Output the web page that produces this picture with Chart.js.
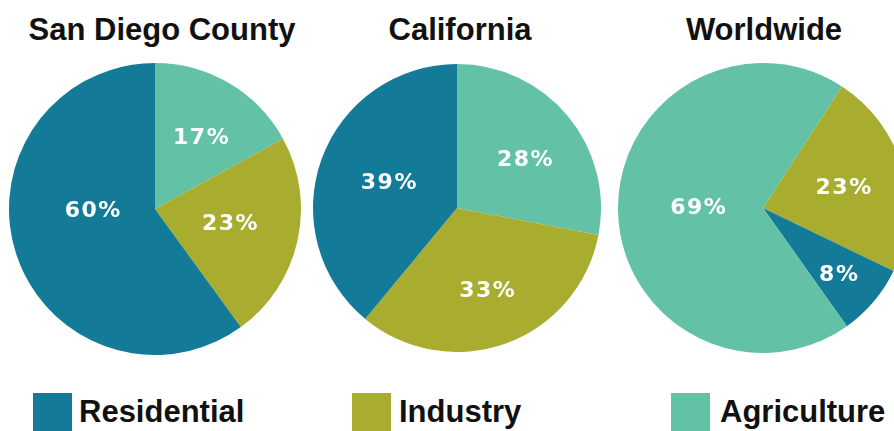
<!DOCTYPE html>
<html>
<head>
<meta charset="utf-8">
<script src="https://cdn.jsdelivr.net/npm/chart.js@4"></script>
<style>
  html, body { margin: 0; padding: 0; background: #ffffff; }
  body { width: 894px; height: 431px; position: relative; overflow: hidden; font-family: "Liberation Sans", Arial, sans-serif; }
  .title { position: absolute; top: 14px; font-weight: bold; font-size: 31px; line-height: 31px; color: #111; white-space: nowrap; transform: translateX(-50%); }
  .box { position: absolute; }
  canvas { display: block; }
  .sw { position: absolute; top: 393px; width: 39px; height: 40px; }
  .lt { position: absolute; top: 396px; font-weight: bold; font-size: 31px; line-height: 31px; color: #111; white-space: nowrap; }
</style>
</head>
<body>
<script>
// ---- data ----
const categories = ["Residential", "Industry", "Agriculture"];
const regions = ["San Diego County", "California", "Worldwide"];
// slice order as drawn clockwise from the start angle
const sdLabels = ["Agriculture", "Industry", "Residential"];
const sdValues = [17, 23, 60];
const caLabels = ["Agriculture", "Industry", "Residential"];
const caValues = [28, 33, 39];
const wwLabels = ["Industry", "Residential", "Agriculture"];
const wwValues = [23, 8, 69];

// ---- style ----
const colors = { Residential: "#137b97", Industry: "#a8ac2f", Agriculture: "#63c2a6" };

const layout = [
  { left: 9,   top: 63, size: 292, titleX: 162, rotation: 0,  labels: sdLabels, values: sdValues,
    lr: [0.58, 0.52, 0.43], la: [2, -1.6, 17] },
  { left: 313, top: 64, size: 288, titleX: 460, rotation: 0,  labels: caLabels, values: caValues,
    lr: [0.58, 0.61, 0.51], la: [3.6, 0, 1] },
  { left: 618, top: 63, size: 290, titleX: 764, rotation: 33, labels: wwLabels, values: wwValues,
    lr: [0.57, 0.69, 0.45], la: [1.4, 1, 2] }
];

const pctLabels = {
  id: "pctLabels",
  afterDatasetsDraw(chart, args, opts) {
    const ctx = chart.ctx;
    const meta = chart.getDatasetMeta(0);
    const ds = chart.data.datasets[0];
    ctx.save();
    ctx.fillStyle = "#ffffff";
    ctx.font = "bold 22px 'DejaVu Sans'";
    ctx.textAlign = "center";
    ctx.textBaseline = "middle";
    try { ctx.letterSpacing = "1.5px"; } catch (e) {}
    meta.data.forEach((arc, i) => {
      const p = arc.getProps(["x", "y", "startAngle", "endAngle", "outerRadius"], true);
      const mid = (p.startAngle + p.endAngle) / 2 + opts.la[i] * Math.PI / 180;
      const r = p.outerRadius * opts.lr[i];
      ctx.fillText(ds.data[i] + "%", p.x + Math.cos(mid) * r + 1, p.y + Math.sin(mid) * r + 1);
    });
    ctx.restore();
  }
};

layout.forEach((L, k) => {
  const t = document.createElement("div");
  t.className = "title";
  t.style.left = L.titleX + "px";
  t.textContent = regions[k];
  document.body.appendChild(t);

  const box = document.createElement("div");
  box.className = "box";
  box.style.left = L.left + "px";
  box.style.top = L.top + "px";
  box.style.width = L.size + "px";
  box.style.height = L.size + "px";
  const cv = document.createElement("canvas");
  box.appendChild(cv);
  document.body.appendChild(box);

  new Chart(cv, {
    type: "pie",
    data: {
      labels: L.labels,
      datasets: [{
        data: L.values,
        backgroundColor: L.labels.map(c => colors[c]),
        borderWidth: 0
      }]
    },
    options: {
      responsive: true,
      maintainAspectRatio: false,
      animation: false,
      rotation: L.rotation,
      layout: { padding: 0 },
      plugins: {
        legend: { display: false },
        tooltip: { enabled: false },
        pctLabels: { lr: L.lr, la: L.la }
      }
    },
    plugins: [pctLabels]
  });
});

// legend
const legendX = { Residential: [33, 79], Industry: [352, 399], Agriculture: [671, 720] };
categories.forEach(c => {
  const s = document.createElement("div");
  s.className = "sw";
  s.style.left = legendX[c][0] + "px";
  s.style.background = colors[c];
  document.body.appendChild(s);
  const l = document.createElement("div");
  l.className = "lt";
  l.style.left = legendX[c][1] + "px";
  l.textContent = c;
  document.body.appendChild(l);
});
</script>
</body>
</html>
